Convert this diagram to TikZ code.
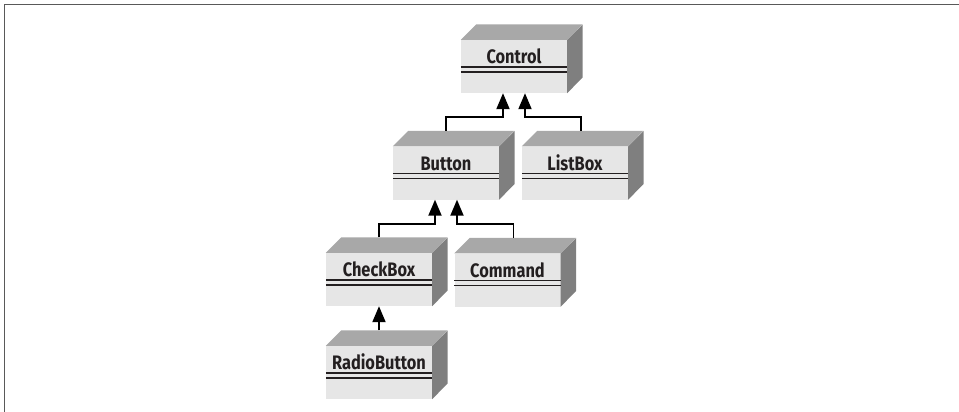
\documentclass[tikz,border=0pt]{standalone}
\usepackage{fontspec}
\setmainfont{Fira Sans}[FakeStretch=0.84]
\usetikzlibrary{calc,arrows.meta}
\definecolor{frontgray}{HTML}{E6E6E6}
\definecolor{topgray}{HTML}{A8A8A8}
\definecolor{sidegray}{HTML}{7F7F7F}
\definecolor{inkgray}{HTML}{231F20}

\begin{document}
\begin{tikzpicture}[x=1pt,y=-1pt,
	classbox/.style={fill=frontgray, minimum width=106pt, inner xsep=0pt, inner ysep=0pt,
		text height=23.5pt, text depth=29.5pt, text=inkgray, font=\bfseries\fontsize{19.5}{19.5}\selectfont},
	inherit/.style={draw=black, line width=1.9pt, -{Triangle[width=13pt,length=16pt]}}]
		\useasboundingbox (0,0) rectangle (959,412);
		\draw[black!65, line width=1.5pt] (4.5,412)--(4.5,4.5)--(959,4.5);
		
		\node[classbox] (ctrl) at (514,66.5) {Control};
		\node[classbox] (btn) at (446,173) {Button};
		\node[classbox] (lbox) at (575,173) {ListBox};
		\node[classbox] (chk) at (379,279.5) {CheckBox};
		\node[classbox] (cmd) at (507.5,280) {Command};
		\node[classbox] (radio) at (379,372.5) {RadioButton};
		
		\foreach \n in {ctrl,btn,lbox,chk,cmd,radio}{
			\fill[topgray] (\n.north west)--++(15.5,-15.5)--++(106,0)--(\n.north east)--cycle;
			\fill[sidegray] (\n.north east)--++(15.5,-15.5)--++(0,53)--(\n.south east)--cycle;
			\draw[inkgray, line width=1.6pt] ($(\n.north west)+(0,27)$)--($(\n.north east)+(0,27)$);
			\draw[inkgray, line width=1.6pt] ($(\n.north west)+(0,32)$)--($(\n.north east)+(0,32)$);
		}
		
		\draw[inherit] ($(btn.north)+(0,-15.5)$)--++(0,-14) -| ($(ctrl.south)+(-11,0)$);
		\draw[inherit] ($(lbox.north)+(6,-15.5)$)--++(0,-14) -| ($(ctrl.south)+(11,0)$);
		\draw[inherit] ($(chk.north)+(0,-15.5)$)--++(0,-13.5) -| ($(btn.south)+(-11,0)$);
		\draw[inherit] ($(cmd.north)+(6,-15.5)$)--++(0,-14) -| ($(btn.south)+(11,0)$);
		\draw[inherit] ($(radio.north)+(0,-15.5)$)--(chk.south);
	\end{tikzpicture}
\end{document}
